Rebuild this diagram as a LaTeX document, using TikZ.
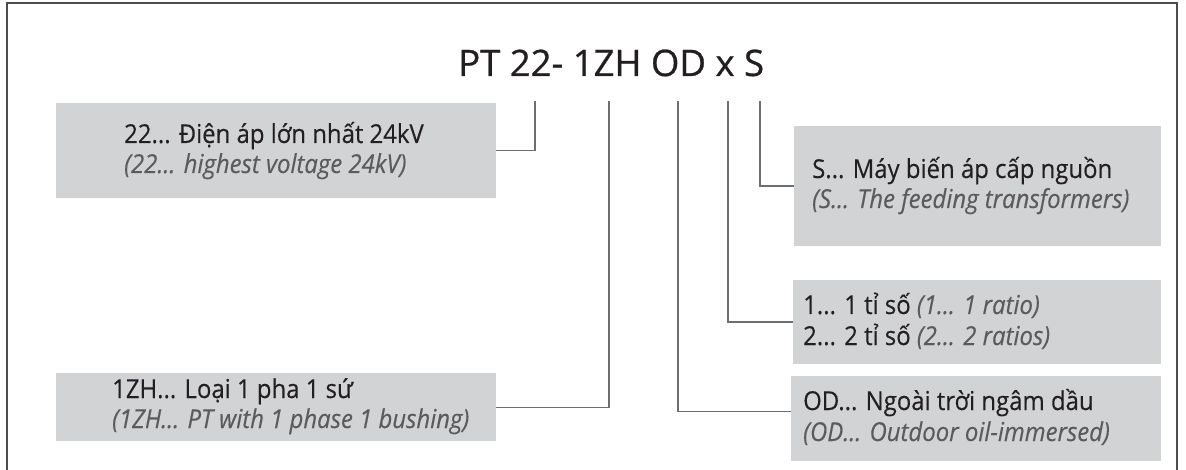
\documentclass[tikz,border=0pt]{standalone}
\usepackage{fontspec}
\setmainfont{Open Sans}
\newfontfamily\bodyfont{Open Sans}[FakeStretch=0.92,FakeBold=0.3]
\newfontfamily\titlefont{Open Sans}[FakeBold=0.7]
\definecolor{boxgray}{HTML}{D1D3D4}
\definecolor{txtblack}{HTML}{231F20}
\definecolor{txtgray}{HTML}{5A5B5D}
\definecolor{linegray}{HTML}{6D6E71}
\definecolor{framegray}{HTML}{4D4D4F}
\tikzset{
  box/.style={rectangle, draw=none, fill=boxgray, inner sep=0pt, anchor=north west},
  lbl/.style={anchor=base west, inner sep=0pt, text=txtblack, font=\bodyfont\fontsize{26}{30}\selectfont},
  lblit/.style={anchor=base west, inner sep=0pt, text=txtgray, font=\bodyfont\fontsize{26}{30}\selectfont\itshape},
  conn/.style={draw=linegray, line width=1.4pt},
  frame/.style={draw=framegray, line width=1.5pt}
}
\begin{document}
\begin{tikzpicture}[x=1pt,y=-1pt]
\useasboundingbox (0,0) rectangle (1186,470);
% frame
\coordinate (fbl) at (7,472);
\coordinate (ftl) at (7,3);
\coordinate (ftr) at (1177,3);
\coordinate (fbr) at (1177,472);
\draw[frame] (fbl) -- (ftl) -- (ftr) -- (fbr);
% title
\node[anchor=base west, inner sep=0pt, text=txtblack, font=\titlefont\fontsize{36.5}{40}\selectfont] (title) at (458,76) {PT 22- 1ZH OD x S};
% boxes
\node[box, minimum width=440pt, minimum height=95pt] (b22) at (56,103) {};
\node[box, minimum width=440pt, minimum height=68pt] (b1zh) at (56,373) {};
\node[box, minimum width=367pt, minimum height=120pt] (bs) at (794,126) {};
\node[box, minimum width=368pt, minimum height=84pt] (br) at (793,280) {};
\node[box, minimum width=370pt, minimum height=85pt] (bod) at (791,376) {};
% texts
\node[lbl] (t22a) at (124,143) {22... Điện áp lớn nhất 24kV};
\node[lblit] (t22b) at (124,173) {(22... highest voltage 24kV)};
\node[lbl] (t1zha) at (112,398) {1ZH... Loại 1 pha 1 sứ};
\node[lblit] (t1zhb) at (112,428) {(1ZH... PT with 1 phase 1 bushing)};
\node[lbl] (tsa) at (812,178) {S... Máy biến áp cấp nguồn};
\node[lblit] (tsb) at (812,208) {(S... The feeding transformers)};
\node[lbl] (tra) at (803,314) {1... 1 tỉ số \textcolor{txtgray}{\itshape (1... 1 ratio)}};
\node[lbl] (trb) at (803,345) {2... 2 tỉ số \textcolor{txtgray}{\itshape (2... 2 ratios)}};
\node[lbl] (toda) at (803,410) {OD... Ngoài trời ngâm dầu};
\node[lblit] (todb) at (803,441) {(OD... Outdoor oil-immersed)};
% connector tops
\coordinate (v22) at (535,101);
\coordinate (v1zh) at (609,101);
\coordinate (vod) at (678,101);
\coordinate (vr) at (728,101);
\coordinate (vs) at (760,101);
% connectors
\draw[conn] (b22.east) -| (v22);
\draw[conn] (b1zh.east) -| (v1zh);
\draw[conn] ([yshift=7.5pt]bod.west) -| (vod);
\draw[conn] (br.west) -| (vr);
\draw[conn] (bs.west) -| (vs);
\end{tikzpicture}
\end{document}
